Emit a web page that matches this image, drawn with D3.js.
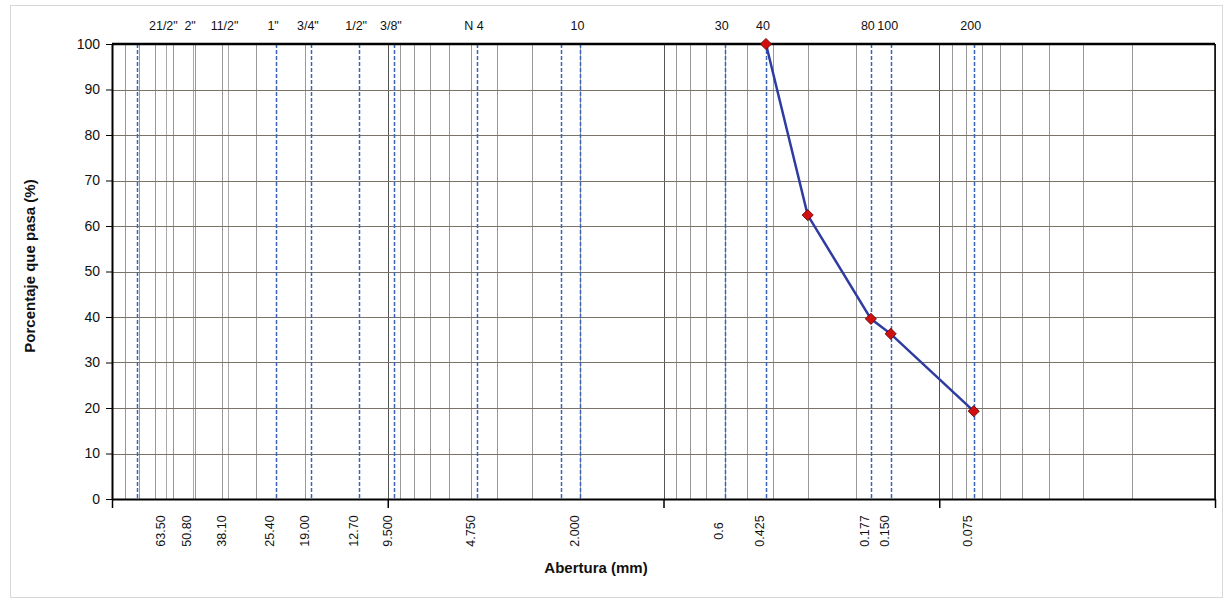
<!DOCTYPE html>
<html>
<head>
<meta charset="utf-8">
<script src="https://cdn.jsdelivr.net/npm/d3@7"></script>
<style>
body { margin: 0; background: #fff; }
text { font-family: "Liberation Sans", Arial, sans-serif; fill: #111; }
.axis_title { font-weight: bold; font-size: 15px; }
</style>
</head>
<body>
<div id="canvas"></div>
<script>
// ----------------------------------------------------------
// DATA -----------------------------------------------------
// ----------------------------------------------------------

// sieve names (top) and openings in mm (bottom)
var sieve_names = ["21/2\"", "2\"", "11/2\"", "1\"", "3/4\"", "1/2\"", "3/8\"", "N 4", "10", "30", "40", "80", "100", "200"];
var sieve_openings = [63.5, 50.8, 38.1, 25.4, 19.0, 12.7, 9.5, 4.75, 2.0, 0.6, 0.425, 0.177, 0.150, 0.075];
var opening_labels = ["63.50", "50.80", "38.10", "25.40", "19.00", "12.70", "9.500", "4.750", "2.000", "0.6", "0.425", "0.177", "0.150", "0.075"];

// reference lines of the sieves
var dashed_openings = [81, 25.4, 19.0, 12.7, 9.5, 4.75, 2.36, 2.0, 0.6, 0.425, 0.177, 0.150, 0.075];
var solid_openings = [63.5, 50.8, 38.1];

// grading curve
var sample_openings = [0.425, 0.3, 0.177, 0.150, 0.075];
var sample_passing = [100, 62.4, 39.6, 36.3, 19.3];

// axes
var y_ticks = [0, 10, 20, 30, 40, 50, 60, 70, 80, 90, 100];
var x_decades = [100, 10, 1, 0.1, 0.01];


// ----------------------------------------------------------
// STRUCTURE ------------------------------------------------
// ----------------------------------------------------------

var W = 1229, H = 603;
var plot = { left: 112, right: 1215, top: 44, bottom: 499 };

var container = d3.select("#canvas").append("svg")
  .attr("width", W)
  .attr("height", H)
  .style("background-color", "#fff");

// outer frame
container.append("rect")
  .attr("x", 10.5).attr("y", 5.5)
  .attr("width", 1212).attr("height", 592)
  .style("fill", "none")
  .style("stroke", "#d8d8d8");

var grid_group = container.append("g").attr("class", "grid_group");
var gfx_group = container.append("g").attr("class", "gfx_group");
var text_group = container.append("g").attr("class", "text_group");

// scales
var xScale = d3.scaleLog()
  .domain([100, 0.01])
  .range([plot.left, plot.right]);

var yScale = d3.scaleLinear()
  .domain([0, 100])
  .range([plot.bottom, plot.top]);


// ----------------------------------------------------------
// GRID -----------------------------------------------------
// ----------------------------------------------------------

// vertical log grid
grid_group.selectAll(".v_grid")
  .data(xScale.ticks())
  .enter()
  .append("line")
  .attr("class", "v_grid")
  .attr("x1", (d) => Math.round(xScale(d)) + 0.5)
  .attr("x2", (d) => Math.round(xScale(d)) + 0.5)
  .attr("y1", plot.top)
  .attr("y2", plot.bottom)
  .style("stroke", (d) => x_decades.indexOf(d) >= 0 ? "#555" : "#999")
  .style("stroke-width", 1);

// extra solid sieve lines
grid_group.selectAll(".s_grid")
  .data(solid_openings)
  .enter()
  .append("line")
  .attr("class", "s_grid")
  .attr("x1", (d) => Math.round(xScale(d)) + 0.5)
  .attr("x2", (d) => Math.round(xScale(d)) + 0.5)
  .attr("y1", plot.top)
  .attr("y2", plot.bottom)
  .style("stroke", "#aaa");

// horizontal grid
grid_group.selectAll(".h_grid")
  .data(y_ticks)
  .enter()
  .append("line")
  .attr("class", "h_grid")
  .attr("x1", plot.left)
  .attr("x2", plot.right)
  .attr("y1", (d) => Math.round(yScale(d)) + 0.5)
  .attr("y2", (d) => Math.round(yScale(d)) + 0.5)
  .style("stroke", "#7a7468");

// dashed sieve lines
grid_group.selectAll(".d_grid")
  .data(dashed_openings)
  .enter()
  .append("line")
  .attr("class", "d_grid")
  .attr("x1", (d) => Math.round(xScale(d)) + 0.5)
  .attr("x2", (d) => Math.round(xScale(d)) + 0.5)
  .attr("y1", plot.top)
  .attr("y2", plot.bottom)
  .style("stroke", "#3b63b8")
  .style("stroke-width", 1.5)
  .style("stroke-dasharray", "4,2");


// ----------------------------------------------------------
// AXES -----------------------------------------------------
// ----------------------------------------------------------

var y_axis = gfx_group.append("g")
  .attr("transform", `translate(${plot.left}, 0)`)
  .call(d3.axisLeft(yScale).tickValues(y_ticks).tickSize(6).tickSizeOuter(0).tickPadding(6));

y_axis.select(".domain").style("stroke", "#000").style("stroke-width", 2);
y_axis.selectAll(".tick line").style("stroke", "#000");
y_axis.selectAll(".tick text")
  .style("font-size", "14px")
  .style("font-family", "Liberation Sans, Arial, sans-serif")
  .attr("fill", "#111");

var x_axis = gfx_group.append("g")
  .attr("transform", `translate(0, ${plot.bottom})`)
  .call(d3.axisBottom(xScale).tickValues(x_decades).tickFormat("").tickSize(9).tickSizeOuter(0));

x_axis.select(".domain").style("stroke", "#000").style("stroke-width", 2);
x_axis.selectAll(".tick line").style("stroke", "#000").style("stroke-width", 1.5);

// top and right border
gfx_group.append("line")
  .attr("x1", plot.left).attr("x2", plot.right)
  .attr("y1", plot.top).attr("y2", plot.top)
  .style("stroke", "#000").style("stroke-width", 2.5);

gfx_group.append("line")
  .attr("x1", plot.right).attr("x2", plot.right)
  .attr("y1", plot.top).attr("y2", plot.bottom)
  .style("stroke", "#000").style("stroke-width", 1.5);


// ----------------------------------------------------------
// CURVE ----------------------------------------------------
// ----------------------------------------------------------

var curve_data = sample_openings.map((d, i) => ({ x: d, y: sample_passing[i] }));

var line = d3.line()
  .x((d) => xScale(d.x))
  .y((d) => yScale(d.y));

gfx_group.append("path")
  .datum(curve_data)
  .attr("d", line)
  .style("fill", "none")
  .style("stroke", "#2e3ba0")
  .style("stroke-width", 2.5);

gfx_group.selectAll(".marker")
  .data(curve_data)
  .enter()
  .append("path")
  .attr("class", "marker")
  .attr("d", d3.symbol().type(d3.symbolDiamond2).size(80))
  .attr("transform", (d) => `translate(${xScale(d.x)}, ${yScale(d.y)})`)
  .style("fill", "#d01010")
  .style("stroke", "#5a0000")
  .style("stroke-width", 0.8);


// ----------------------------------------------------------
// TEXT -----------------------------------------------------
// ----------------------------------------------------------

// sieve names on top
text_group.selectAll(".sieve_name")
  .data(sieve_names)
  .enter()
  .append("text")
  .attr("class", "sieve_name")
  .attr("x", (d, i) => xScale(sieve_openings[i]) - 3)
  .attr("y", 30)
  .attr("text-anchor", "middle")
  .style("font-size", "12.5px")
  .text((d) => d);

// openings below, rotated
text_group.selectAll(".opening_label")
  .data(opening_labels)
  .enter()
  .append("text")
  .attr("class", "opening_label")
  .attr("transform", (d, i) => `translate(${xScale(sieve_openings[i]) - 6}, 531) rotate(-90)`)
  .attr("dy", "0.35em")
  .attr("text-anchor", "middle")
  .style("font-size", "12.5px")
  .text((d) => d);

// axis titles
text_group.append("text")
  .attr("class", "axis_title")
  .attr("x", 596)
  .attr("y", 573)
  .attr("text-anchor", "middle")
  .text("Abertura (mm)");

text_group.append("text")
  .attr("class", "axis_title")
  .attr("transform", "translate(35, 266) rotate(-90)")
  .attr("text-anchor", "middle")
  .text("Porcentaje que pasa (%)");
</script>
</body>
</html>
